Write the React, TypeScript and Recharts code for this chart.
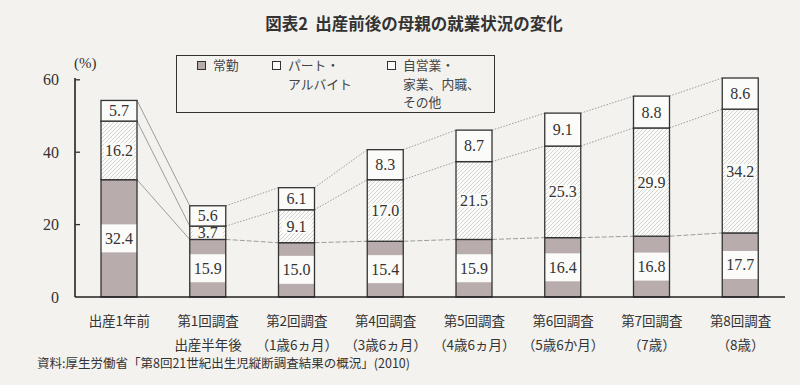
import React from 'react';
import { BarChart, Bar, XAxis, YAxis, Legend } from 'recharts';

const categories = ['出産1年前', '第1回調査', '第2回調査', '第4回調査', '第5回調査', '第6回調査', '第7回調査', '第8回調査'];
const subLabels = ['', '出産半年後', '（1歳6ヵ月）', '（3歳6ヵ月）', '（4歳6ヵ月）', '（5歳6か月）', '（7歳）', '（8歳）'];
const fullTime = [32.4, 15.9, 15.0, 15.4, 15.9, 16.4, 16.8, 17.7];
const partTime = [16.2, 3.7, 9.1, 17.0, 21.5, 25.3, 29.9, 34.2];
const selfEmployed = [5.7, 5.6, 6.1, 8.3, 8.7, 9.1, 8.8, 8.6];
const yTicks = [0, 20, 40, 60];

const KEYS = ['fullTime', 'partTime', 'selfEmployed'] as const;

const data = categories.map((name, i) => ({
  name,
  sub: subLabels[i],
  fullTime: fullTime[i],
  partTime: partTime[i],
  selfEmployed: selfEmployed[i],
}));

const W = 800;
const H = 385;
const MARGIN = { top: 78, right: 15, bottom: 28, left: 40 };
const Y_AXIS_W = 35;
const PLOT_W = W - MARGIN.left - MARGIN.right - Y_AXIS_W;
const STEP = PLOT_W / categories.length;

const CJK = '"Noto Sans CJK JP", sans-serif';
const SERIF = '"Liberation Serif", "DejaVu Serif", serif';
const INK = '#333';
const GRAY = '#b8adac';
const PAPER = '#f3f2ee';
const WHITE = '#fbfbf9';

const fills = [GRAY, 'url(#hatch)', WHITE];

function makeSegment(level: number) {
  return (props: any) => {
    const { x, y, width, height } = props;
    let index = props.index;
    if (index == null) index = data.indexOf(props.payload);
    const row: any = data[index];
    const value = row[KEYS[level]];
    const below = KEYS.slice(0, level).reduce((s, k) => s + row[k], 0);
    const ppu = height / value;
    const zeroY = y + height + below * ppu;
    const next: any = data[index + 1];
    let connector = null;
    if (next) {
      const nextTop = KEYS.slice(0, level + 1).reduce((s, k) => s + next[k], 0);
      const dash = index === 0 ? undefined : level === 0 ? '5 2' : '1.5 1.5';
      connector = (
        <line
          x1={x + width}
          y1={y}
          x2={x + STEP}
          y2={zeroY - nextTop * ppu}
          stroke="#777"
          strokeWidth={0.7}
          strokeDasharray={dash}
        />
      );
    }
    const cx = x + width / 2;
    const cy = y + height / 2;
    return (
      <g>
        {connector}
        <rect x={x} y={y} width={width} height={height} fill={fills[level]} />
        {level === 0 && <rect x={x} y={cy - 14} width={width} height={28} fill={WHITE} />}
        {level === 1 && <rect x={cx - 15} y={cy - 7} width={30} height={14} fill={WHITE} opacity={0.85} />}
        <rect x={x} y={y} width={width} height={height} fill="none" stroke={INK} strokeWidth={1.3} />
        <text
          x={cx}
          y={cy}
          textAnchor="middle"
          dominantBaseline="central"
          fontFamily={SERIF}
          fontSize={16}
          fill={INK}
        >
          {value.toFixed(1)}
        </text>
      </g>
    );
  };
}

const CategoryTick = (props: any) => {
  const { x, y, payload } = props;
  const i = categories.indexOf(payload.value);
  return (
    <g>
      <text x={x} y={y + 23} textAnchor="middle" dominantBaseline="central" fontFamily={CJK} fontSize={13.5} fill={INK}>
        {payload.value}
      </text>
      {subLabels[i] && (
        <text x={x} y={y + 47} textAnchor="middle" dominantBaseline="central" fontFamily={CJK} fontSize={13.5} fill={INK}>
          {subLabels[i]}
        </text>
      )}
    </g>
  );
};

const ValueTick = (props: any) => {
  const { x, y, payload } = props;
  return (
    <g>
      <text x={x} y={y} textAnchor="end" dominantBaseline="central" fontFamily={SERIF} fontSize={16} fill={INK}>
        {payload.value}
      </text>
      {payload.value !== 0 && <line x1={x + 16} y1={y} x2={x + 21} y2={y} stroke={INK} strokeWidth={1.3} />}
    </g>
  );
};

const Marker = ({ fill }: { fill: string }) => (
  <span
    style={{
      position: 'absolute',
      width: 7,
      height: 7,
      border: `1.5px solid ${INK}`,
      background: fill,
      marginLeft: -16,
      marginTop: 5,
    }}
  />
);

const LegendBox = () => {
  const text = { position: 'absolute' as const, whiteSpace: 'nowrap' as const, lineHeight: '18.5px' };
  return (
    <div
      style={{
        width: 319,
        height: 58,
        boxSizing: 'border-box',
        border: `1.5px solid ${INK}`,
        position: 'relative',
        fontFamily: CJK,
        fontSize: 12.8,
        color: '#444',
      }}
    >
      <div style={{ ...text, left: 36, top: 0 }}>
        <Marker fill={GRAY} />常勤
      </div>
      <div style={{ ...text, left: 111, top: 0 }}>
        <Marker fill={WHITE} />パート・<br />アルバイト
      </div>
      <div style={{ ...text, left: 226, top: 0 }}>
        <Marker fill={WHITE} />自営業・<br />家業、内職、<br />その他
      </div>
    </div>
  );
};

export default function App() {
  return (
    <div style={{ position: 'absolute', left: 0, top: 0, width: W, height: H, background: PAPER, overflow: 'hidden' }}>
      <svg width={0} height={0} style={{ position: 'absolute' }}>
        <defs>
          <pattern id="hatch" patternUnits="userSpaceOnUse" width={4} height={4}>
            <rect width={4} height={4} fill={WHITE} />
            <path d="M0,4 L4,0 M-1,1 L1,-1 M3,5 L5,3" stroke="#c2c2c2" strokeWidth={0.7} />
          </pattern>
        </defs>
      </svg>
      <div
        style={{
          position: 'absolute',
          left: 414,
          top: 11,
          transform: 'translateX(-50%)',
          whiteSpace: 'nowrap',
          fontFamily: CJK,
          fontWeight: 700,
          fontSize: 16.5,
          lineHeight: '24px',
          color: INK,
        }}
      >
        図表2&nbsp;&nbsp;出産前後の母親の就業状況の変化
      </div>
      <div style={{ position: 'absolute', left: 74, top: 54, fontFamily: SERIF, fontSize: 15, lineHeight: '18px', color: INK }}>
        (%)
      </div>
      <BarChart width={W} height={H} data={data} margin={MARGIN} barSize={36}>
        <XAxis
          dataKey="name"
          height={60}
          tickLine={false}
          tickSize={0}
          tickMargin={0}
          interval={0}
          tick={<CategoryTick />}
          axisLine={{ stroke: '#222', strokeWidth: 1.6 }}
        />
        <YAxis
          width={Y_AXIS_W}
          domain={[0, 60.5]}
          ticks={yTicks}
          tickLine={false}
          tickSize={0}
          tickMargin={16}
          tick={<ValueTick />}
          axisLine={{ stroke: '#222', strokeWidth: 1.6 }}
        />
        <Legend
          layout="vertical"
          verticalAlign="middle"
          align="center"
          content={<LegendBox />}
          wrapperStyle={{ position: 'absolute', left: 176, top: 55, width: 319, height: 58 }}
        />
        {KEYS.map((k, level) => (
          <Bar key={k} dataKey={k} stackId="a" shape={makeSegment(level)} isAnimationActive={false} />
        ))}
      </BarChart>
      <div
        style={{
          position: 'absolute',
          left: 37,
          top: 355,
          whiteSpace: 'nowrap',
          fontFamily: CJK,
          fontSize: 12.5,
          lineHeight: '16px',
          color: INK,
        }}
      >
        資料:厚生労働省「第8回21世紀出生児縦断調査結果の概況」(2010)
      </div>
    </div>
  );
}
